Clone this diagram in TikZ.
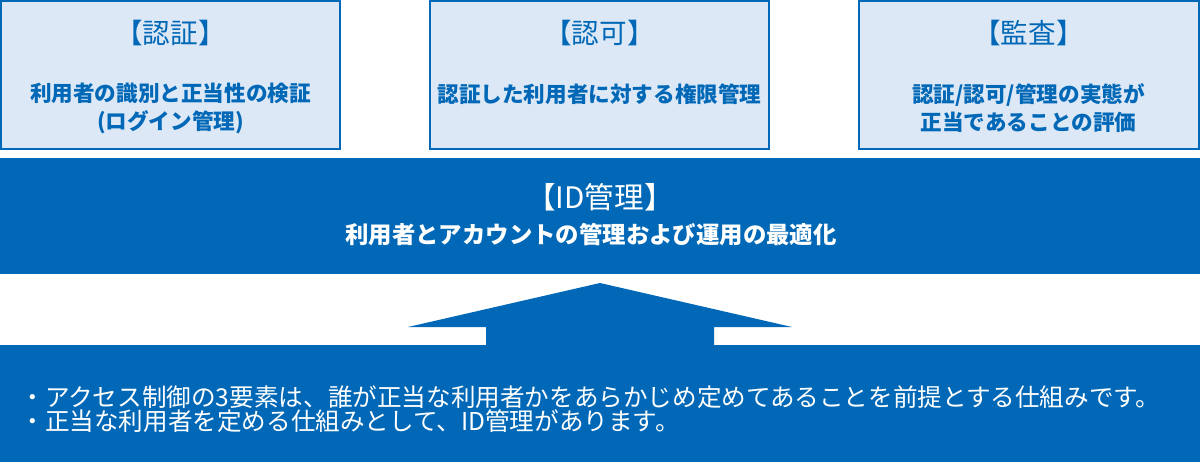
\documentclass[tikz,border=0pt]{standalone}
\usepackage{fontspec}
\setmainfont{Noto Sans CJK JP}
\usepackage{tikz}
\usetikzlibrary{positioning}
\definecolor{idblue}{HTML}{0068B6}
\definecolor{idlight}{HTML}{DDE8F6}

\begin{document}
\begin{tikzpicture}[x=0.5pt,y=-0.5pt,
  pillar/.style={draw=idblue,fill=idlight,line width=1.25pt},
  pillhead/.style={text=idblue,font=\fontsize{13.8pt}{16pt}\selectfont},
  pilltext/.style={text=idblue,align=center,font=\bfseries\fontsize{10.8pt}{14pt}\selectfont},
  bartext/.style={text=white,align=center}]
\useasboundingbox (0,0) rectangle (1200,462);
% three pillars
\draw[pillar] (1.2,1.2) rectangle (340,148.8);
\draw[pillar] (430,1.2) rectangle (769,148.8);
\draw[pillar] (859,1.2) rectangle (1198.8,148.8);
\node[pillhead] (authn) at (170.5,33) {【認証】};
\node[pilltext] (authntext) at (170.5,108) {利用者の識別と正当性の検証\\(ログイン管理)};
\node[pillhead] (authz) at (599.5,33) {【認可】};
\node[pilltext] (authztext) at (599.5,94) {認証した利用者に対する権限管理};
\node[pillhead] (audit) at (1028.5,33) {【監査】};
\node[pilltext] (audittext) at (1028.5,108) {認証/認可/管理の実態が\\正当であることの評価};
% ID management bar
\fill[idblue] (0,158) rectangle (1200,274);
\node[bartext,font=\fontsize{14.8pt}{16pt}\selectfont] (idm) at (600,197) {【ID管理】};
\node[bartext,font=\bfseries\fontsize{11.7pt}{14pt}\selectfont] (idmtext) at (591,235) {利用者とアカウントの管理および運用の最適化};
% arrow and base
\fill[idblue] (600,283) -- (792,327) -- (714,327) -- (714,346) -- (486,346) -- (486,327) -- (408,327) -- cycle;
\fill[idblue] (0,345) rectangle (1200,462);
\node[text=white,anchor=west,align=left,inner sep=0pt,
  font=\fontsize{12.3pt}{12pt}\selectfont] (note) at (20,409)
  {・アクセス制御の3要素は、誰が正当な利用者かをあらかじめ定めてあることを前提とする仕組みです。\\
   ・正当な利用者を定める仕組みとして、ID管理があります。};
\end{tikzpicture}
\end{document}
